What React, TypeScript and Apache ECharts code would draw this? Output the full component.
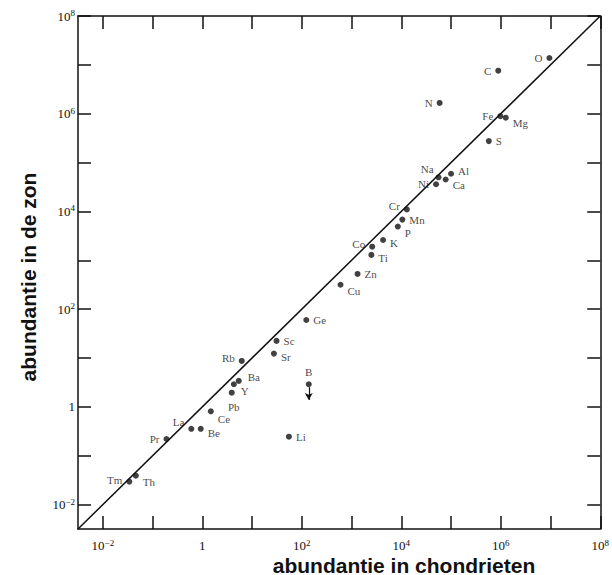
import React, { useEffect, useRef } from "react";
import * as echarts from "echarts";

// Element symbols, abundance in chondrites (x) and in the sun (y), Si = 10^6
const elements = ["O", "C", "N", "Fe", "Mg", "S", "Na", "Ni", "Al", "Ca", "Cr", "Mn", "P", "K", "Co", "Ti", "Zn", "Cu", "Ge", "Sc", "Sr", "Rb", "Ba", "Y", "Pb", "Ce", "La", "Be", "Pr", "Tm", "Th", "B", "Li"];
const chondrites = [9.5e6, 8.9e5, 5.9e4, 9.8e5, 1.26e6, 5.75e5, 5.6e4, 5.0e4, 1.0e5, 7.8e4, 1.29e4, 1.05e4, 8.5e3, 4.3e3, 2.6e3, 2.5e3, 1.32e3, 600, 123, 31, 27.5, 6.2, 5.4, 4.3, 3.9, 1.48, 0.6, 0.93, 0.19, 0.034, 0.046, 138, 55];
const sun = [1.38e7, 7.6e6, 1.66e6, 8.9e5, 8.3e5, 2.75e5, 5.0e4, 3.6e4, 5.9e4, 4.5e4, 1.1e4, 6.8e3, 4.9e3, 2.6e3, 1.9e3, 1.29e3, 525, 316, 60, 22.4, 12.3, 8.7, 3.4, 2.9, 1.95, 0.81, 0.355, 0.355, 0.22, 0.0295, 0.039, 2.9, 0.245];
const upperLimits = ["B"];

// axis (log10 exponents)
const axisRange = [-2.5, 8];
const tickExponents = [-2, -1, 0, 1, 2, 3, 4, 5, 6, 7, 8];
const labelExponents = [-2, 0, 2, 4, 6, 8];

// label placement (style)
const placement: Record<string, { position: string; offset?: number[] }> = {
  O: { position: "left" }, C: { position: "left" }, N: { position: "left" },
  Fe: { position: "left" }, Mg: { position: "right", offset: [0, 5] },
  S: { position: "right" }, Na: { position: "left", offset: [2, -8] },
  Ni: { position: "left" }, Al: { position: "right", offset: [0, -3] },
  Ca: { position: "right", offset: [0, 5] }, Cr: { position: "left", offset: [0, -3] },
  Mn: { position: "right" }, P: { position: "right", offset: [0, 6] },
  K: { position: "right", offset: [0, 3] }, Co: { position: "left", offset: [0, -3] },
  Ti: { position: "right", offset: [0, 3] }, Zn: { position: "right" },
  Cu: { position: "right", offset: [0, 6] }, Ge: { position: "right" },
  Sc: { position: "right" }, Sr: { position: "right", offset: [0, 3] },
  Rb: { position: "left", offset: [0, -3] }, Ba: { position: "right", offset: [2, -4] },
  Y: { position: "right", offset: [0, 7] }, Pb: { position: "bottom", offset: [2, 2] },
  Ce: { position: "right", offset: [0, 8] }, La: { position: "left", offset: [0, -7] },
  Be: { position: "right", offset: [0, 4] }, Pr: { position: "left" },
  Tm: { position: "left", offset: [0, -2] }, Th: { position: "right", offset: [0, 6] },
  B: { position: "top" }, Li: { position: "right" },
};

const SERIF = "'Liberation Serif', 'DejaVu Serif', serif";
const SANS = "'Liberation Sans', Arial, sans-serif";

const fmtExp = (v: number) => (v === 0 ? "1" : `10{sup|${v < 0 ? "\u2212" + Math.abs(v) : v}}`);

const labelRich = {
  sup: { fontSize: 9, fontFamily: SERIF, color: "#111", verticalAlign: "top", lineHeight: 15 },
};

export default function App() {
  const ref = useRef<HTMLDivElement>(null);
  useEffect(() => {
    const chart = echarts.init(ref.current!, null, { renderer: "svg" });
    const points = elements.map((el, i) => {
      const p = placement[el] || { position: "right" };
      return {
        name: el,
        value: [Math.log10(chondrites[i]), Math.log10(sun[i])],
        label: { position: p.position, offset: p.offset || [0, 0] },
      };
    });
    const arrows = elements
      .map((el, i) => ({ el, i }))
      .filter((d) => upperLimits.includes(d.el))
      .map(({ i }) => {
        const x = Math.log10(chondrites[i]);
        const y = Math.log10(sun[i]);
        return [
          { coord: [x, y - 0.06], symbol: "none" },
          { coord: [x, y - 0.32], symbol: "arrow" },
        ];
      });

    const axisCommon = {
      type: "value",
      min: axisRange[0],
      max: axisRange[1],
      splitLine: { show: false },
      axisLine: { show: true, onZero: false, lineStyle: { color: "#111", width: 1.5 } },
      axisTick: { show: true, inside: true, length: 13, customValues: tickExponents, lineStyle: { color: "#111", width: 1.5 } },
    };

    chart.setOption({
      animation: false,
      backgroundColor: "#fff",
      grid: { left: 78, right: 11, top: 16, bottom: 46 },
      xAxis: [
        {
          ...axisCommon,
          position: "bottom",
          axisLabel: {
            show: true, customValues: labelExponents, margin: 9, formatter: fmtExp,
            fontFamily: SERIF, fontSize: 13, color: "#111", lineHeight: 15, rich: labelRich,
          },
        },
        { ...axisCommon, position: "top", axisLabel: { show: false } },
      ],
      yAxis: [
        {
          ...axisCommon,
          position: "left",
          axisLabel: {
            show: true, customValues: labelExponents, margin: 3, formatter: fmtExp,
            fontFamily: SERIF, fontSize: 13, color: "#111", lineHeight: 15, rich: labelRich,
          },
        },
        { ...axisCommon, position: "right", axisLabel: { show: false } },
      ],
      series: [
        {
          type: "line",
          data: [[axisRange[0], axisRange[0]], [axisRange[1], axisRange[1]]],
          symbol: "none",
          lineStyle: { color: "#111", width: 1.5 },
          silent: true,
        },
        {
          type: "scatter",
          data: points,
          symbol: "circle",
          symbolSize: 6,
          itemStyle: { color: "#111" },
          label: {
            show: true,
            formatter: "{b}",
            fontFamily: SERIF,
            fontSize: 11,
            color: "#111",
            distance: 4,
          },
          markLine: {
            silent: true,
            symbolSize: [6, 7],
            label: { show: false },
            lineStyle: { color: "#111", width: 1.2, type: "solid" },
            data: arrows,
          },
        },
      ],
      graphic: [
        {
          type: "text",
          x: 404,
          y: 565,
          style: {
            text: "abundantie in chondrieten",
            font: `bold 21px ${SANS}`,
            fill: "#111",
            textAlign: "center",
            textVerticalAlign: "middle",
          },
        },
        {
          type: "text",
          x: 28,
          y: 277,
          rotation: Math.PI / 2,
          style: {
            text: "abundantie in de zon",
            font: `bold 21px ${SANS}`,
            fill: "#111",
            textAlign: "center",
            textVerticalAlign: "middle",
          },
        },
      ],
    });
    return () => chart.dispose();
  }, []);
  return (
    <div
      ref={ref}
      style={{ position: "fixed", left: 0, top: 0, width: 612, height: 575, background: "#fff" }}
    />
  );
}
